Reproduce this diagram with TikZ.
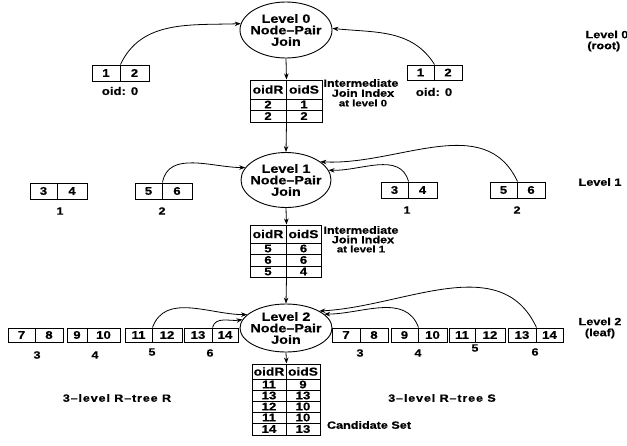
\documentclass[tikz,border=0pt]{standalone}
\usepackage{fontspec}
\setmainfont{Liberation Sans}[FakeStretch=1.2, BoldFeatures={FakeBold=0.5}]
\usetikzlibrary{shapes.geometric,arrows.meta}

\begin{document}
\begin{tikzpicture}[x=1pt,y=-1pt,
  cell/.style={draw, line width=1pt, inner sep=0pt,
    font=\bfseries\fontsize{11}{11}\selectfont},
  head/.style={cell, font=\bfseries\fontsize{11.5}{11.5}\selectfont},
  joinop/.style={ellipse, draw, line width=0.9pt, inner sep=0pt},
  jtext/.style={align=center, inner sep=0pt,
    font=\bfseries\fontsize{12}{11.5}\selectfont},
  lab/.style={align=center, inner sep=0pt,
    font=\bfseries\fontsize{10.5}{9.5}\selectfont},
  arr/.style={-{Stealth[length=6pt,width=4.5pt]}, line width=0.8pt},
]
\useasboundingbox (0,0) rectangle (627,445);

% ---------- join operators ----------
\node[joinop, minimum width=92pt, minimum height=56pt] (e0) at (286,30) {};
\node[jtext] at (e0) {Level 0\\Node–Pair\\Join};
\node[joinop, minimum width=90pt, minimum height=55pt] (e1) at (286,180) {};
\node[jtext] at (e1) {Level 1\\Node–Pair\\Join};
\node[joinop, minimum width=92pt, minimum height=48pt] (e2) at (286,328) {};
\node[jtext] at (e2) {Level 2\\Node–Pair\\Join};

% ---------- level 0 (root) entries ----------
\node[cell, minimum width=28pt, minimum height=16pt] (ra0) at (106,73) {1};
\node[cell, minimum width=29pt, minimum height=16pt] (rb0) at (134.5,73) {2};
\node[lab, font=\bfseries\fontsize{11}{11}\selectfont] (ro) at (120,91) {oid: 0};
\node[cell, minimum width=27pt, minimum height=15pt] (sa0) at (420.5,72.5) {1};
\node[cell, minimum width=28pt, minimum height=15pt] (sb0) at (448,72.5) {2};
\node[lab, font=\bfseries\fontsize{11}{11}\selectfont] (so) at (434,92) {oid: 0};

% ---------- level 1 entries ----------
\node[cell, minimum width=27pt, minimum height=16pt] (ra1) at (43.5,191) {3};
\node[cell, minimum width=30pt, minimum height=16pt] (rb1) at (72,191) {4};
\node[lab] at (60,211) {1};
\node[cell, minimum width=27pt, minimum height=16pt] (ra2) at (148.5,191) {5};
\node[cell, minimum width=30pt, minimum height=16pt] (rb2) at (177,191) {6};
\node[lab] at (162,211) {2};
\node[cell, minimum width=27pt, minimum height=16pt] (sa1) at (394.5,190) {3};
\node[cell, minimum width=29pt, minimum height=16pt] (sb1) at (422.5,190) {4};
\node[lab] at (407,210) {1};
\node[cell, minimum width=27pt, minimum height=16pt] (sa2) at (503.5,190) {5};
\node[cell, minimum width=28pt, minimum height=16pt] (sb2) at (531,190) {6};
\node[lab] at (517,210) {2};

% ---------- level 2 (leaf) entries ----------
\node[cell, minimum width=27pt, minimum height=14pt] (ra3) at (21.5,335) {7};
\node[cell, minimum width=28pt, minimum height=14pt] (rb3) at (49,335) {8};
\node[lab] at (37,355) {3};
\node[cell, minimum width=20pt, minimum height=14pt] (ra4) at (77,335) {9};
\node[cell, minimum width=33pt, minimum height=14pt] (rb4) at (103.5,335) {10};
\node[lab] at (95,355) {4};
\node[cell, minimum width=27pt, minimum height=14pt] (ra5) at (138.5,335) {11};
\node[cell, minimum width=30pt, minimum height=14pt] (rb5) at (167,335) {12};
\node[lab] at (152,352) {5};
\node[cell, minimum width=28pt, minimum height=14pt] (ra6) at (198,335) {13};
\node[cell, minimum width=26pt, minimum height=14pt] (rb6) at (225,335) {14};
\node[lab] at (210,353) {6};

\node[cell, minimum width=28pt, minimum height=14pt] (sa3) at (346,335) {7};
\node[cell, minimum width=28pt, minimum height=14pt] (sb3) at (374,335) {8};
\node[lab] at (360,353) {3};
\node[cell, minimum width=27pt, minimum height=14pt] (sa4) at (404.5,335) {9};
\node[cell, minimum width=29pt, minimum height=14pt] (sb4) at (432.5,335) {10};
\node[lab] at (418,353) {4};
\node[cell, minimum width=26pt, minimum height=14pt] (sa5) at (462,335) {11};
\node[cell, minimum width=30pt, minimum height=14pt] (sb5) at (490,335) {12};
\node[lab] at (475,348) {5};
\node[cell, minimum width=28pt, minimum height=14pt] (sa6) at (522,335) {13};
\node[cell, minimum width=27pt, minimum height=14pt] (sb6) at (549.5,335) {14};
\node[lab] at (535,352) {6};

% ---------- intermediate join index, level 0 ----------
\node[head, minimum width=36pt, minimum height=19pt] (t0ha) at (268,89.5) {oidR};
\node[head, minimum width=36pt, minimum height=19pt] (t0hb) at (304,89.5) {oidS};
\node[cell, minimum width=36pt, minimum height=11pt] (t0aa) at (268,104.5) {2};
\node[cell, minimum width=36pt, minimum height=11pt] (t0ab) at (304,104.5) {1};
\node[cell, minimum width=36pt, minimum height=12pt] (t0ba) at (268,116) {2};
\node[cell, minimum width=36pt, minimum height=12pt] (t0bb) at (304,116) {2};
\node[lab] at (361,83) {Intermediate};
\node[lab] at (363,93) {Join Index};
\node[lab, font=\bfseries\fontsize{9.5}{9}\selectfont] at (363,103) {at level 0};

% ---------- intermediate join index, level 1 ----------
\node[head, minimum width=36pt, minimum height=18pt] (t1ha) at (268,234) {oidR};
\node[head, minimum width=35pt, minimum height=18pt] (t1hb) at (303.5,234) {oidS};
\node[cell, minimum width=36pt, minimum height=11pt] (t1aa) at (268,248.5) {5};
\node[cell, minimum width=35pt, minimum height=11pt] (t1ab) at (303.5,248.5) {6};
\node[cell, minimum width=36pt, minimum height=12pt] (t1ba) at (268,260) {6};
\node[cell, minimum width=35pt, minimum height=12pt] (t1bb) at (303.5,260) {6};
\node[cell, minimum width=36pt, minimum height=11pt] (t1ca) at (268,271.5) {5};
\node[cell, minimum width=35pt, minimum height=11pt] (t1cb) at (303.5,271.5) {4};
\node[lab] at (361,230) {Intermediate};
\node[lab] at (363,239.5) {Join Index};
\node[lab, font=\bfseries\fontsize{9.5}{9}\selectfont] at (361,249) {at level 1};

% ---------- candidate set ----------
\node[head, minimum width=34pt, minimum height=15pt] (t2ha) at (269,371.5) {oidR};
\node[head, minimum width=34pt, minimum height=15pt] (t2hb) at (303,371.5) {oidS};
\node[cell, minimum width=34pt, minimum height=11pt] (t2aa) at (269,384.5) {11};
\node[cell, minimum width=34pt, minimum height=11pt] (t2ab) at (303,384.5) {9};
\node[cell, minimum width=34pt, minimum height=11pt] (t2ba) at (269,395.5) {13};
\node[cell, minimum width=34pt, minimum height=11pt] (t2bb) at (303,395.5) {13};
\node[cell, minimum width=34pt, minimum height=11pt] (t2ca) at (269,406.5) {12};
\node[cell, minimum width=34pt, minimum height=11pt] (t2cb) at (303,406.5) {10};
\node[cell, minimum width=34pt, minimum height=11pt] (t2da) at (269,417.5) {11};
\node[cell, minimum width=34pt, minimum height=11pt] (t2db) at (303,417.5) {10};
\node[cell, minimum width=34pt, minimum height=12pt] (t2ea) at (269,429) {14};
\node[cell, minimum width=34pt, minimum height=12pt] (t2eb) at (303,429) {13};
\node[lab] at (369,425) {Candidate Set};

% ---------- captions ----------
\node[lab, font=\bfseries\fontsize{10.5}{10}\selectfont\addfontfeatures{LetterSpace=8}] at (117,398) {3–level R–tree R};
\node[lab, font=\bfseries\fontsize{10.5}{10}\selectfont\addfontfeatures{LetterSpace=8}] at (442,398) {3–level R–tree S};
\node[lab, align=left, font=\bfseries\fontsize{10.5}{11}\selectfont] at (607,41) {Level 0\\[0pt]\,(root)};
\node[lab] at (600,182) {Level 1};
\node[lab, font=\bfseries\fontsize{10.5}{11}\selectfont] at (600,328) {Level 2\\(leaf)};

% ---------- data flow between levels ----------
\draw[arr] (e0.south) -- (t0ha.north east);
\draw[arr] (t0ba.south east) -- (e1.north);
\draw[arr] (e1.south) -- (t1ha.north east);
\draw[arr] (t1ca.south east) -- (e2.north);
\draw[arr] (e2.south) -- (t2ha.north east);

% ---------- node pairs fed into each join ----------
\draw[arr] (ra0.north east) to[out=65,in=182] (e0.172);
\draw[arr] (sa0.north east) to[out=122,in=-6] (e0.2);

\draw[arr] (ra2.north east) to[out=80,in=180] (e1.163);
\draw[arr] (sa1.north east) to[out=105,in=-2] (e1.13);
\draw[arr] (sa2.north east) to[out=115,in=-3] (e1.28);

\draw[arr] (ra5.north east) to[out=70,in=180] (e2.161);
\draw[arr] (ra6.north east) to[out=75,in=190] (e2.169);
\draw[arr] (sa4.north east) to[out=110,in=0] (e2.20);
\draw[arr] (sa6.north east) to[out=115,in=3] (e2.27);
\end{tikzpicture}
\end{document}
